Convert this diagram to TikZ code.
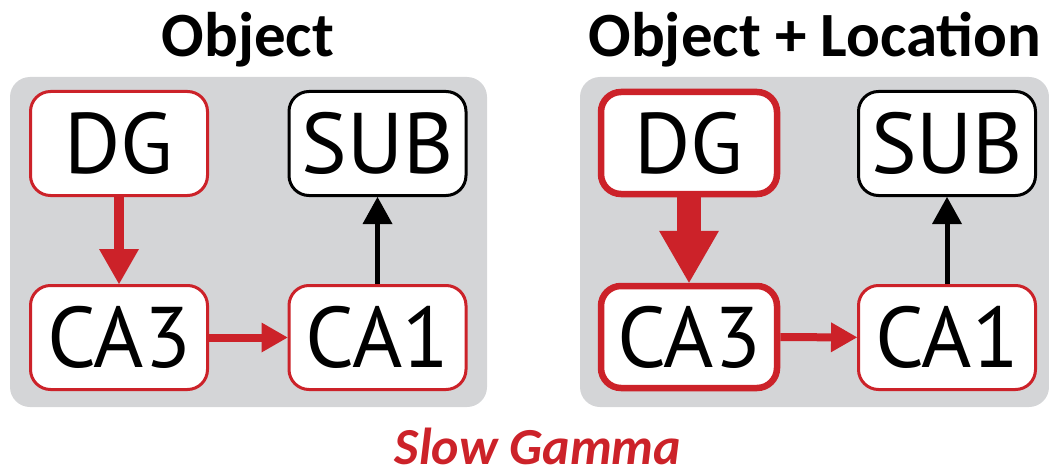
\documentclass[tikz,border=0pt]{standalone}
\usepackage{fontspec}
\setmainfont{Carlito}
\newfontfamily\boxfont{PT Sans}
\usetikzlibrary{arrows.meta}
\definecolor{hipred}{RGB}{204,34,41}
\definecolor{panelgray}{RGB}{212,213,215}
\tikzset{
  region/.style={rounded corners=20pt, fill=white, draw=hipred, line width=3pt,
    minimum width=177pt, minimum height=104pt, inner sep=0pt,
    font=\boxfont\fontsize{86}{86}\selectfont},
  strong/.style={line width=6.5pt, minimum width=176pt, minimum height=102pt},
  output/.style={draw=black},
  title/.style={anchor=base, inner sep=0pt, font=\bfseries\fontsize{63}{63}\selectfont},
  flow/.style={draw=hipred},
}

\begin{document}
\begin{tikzpicture}[x=1pt,y=-1pt]
      \useasboundingbox (0,0) rectangle (1049,476);
      \fill[panelgray, rounded corners=20pt] (10,77) rectangle (487,407);
      \fill[panelgray, rounded corners=20pt] (580,77) rectangle (1049,407);

      \node[title] (objT) at (248,57) {Object};
      \node[title] (locT) at (815,57) {Object + Location};

      % object only
      \node[region] (DGa) at (119,143.5) {DG};
      \node[region,output] (SUBa) at (377.5,143.5) {SUB};
      \node[region] (CAthreea) at (119,337.5) {CA3};
      \node[region] (CAonea) at (377.5,337.5) {CA1};

      % object + location
      \node[region,strong] (DGb) at (689,143) {DG};
      \node[region,output] (SUBb) at (947,143.5) {SUB};
      \node[region,strong] (CAthreeb) at (689,337) {CA3};
      \node[region] (CAoneb) at (947,337.5) {CA1};

      \draw[flow, line width=10pt, -{Triangle[width=40pt,length=35pt,line width=0pt]}] (DGa) -- (CAthreea);
      \draw[flow, line width=8pt, -{Triangle[width=30pt,length=26pt,line width=0pt]}] (CAthreea) -- (CAonea);
      \draw[line width=5pt, -{Triangle[width=30pt,length=27pt,line width=0pt]}] (CAonea) -- (SUBa);

      \draw[flow, line width=24pt, -{Triangle[width=60pt,length=52pt,line width=0pt]}] (DGb) -- (CAthreeb);
      \draw[flow, line width=8pt, -{Triangle[width=30pt,length=26pt,line width=0pt]}] (CAthreeb) -- (CAoneb);
      \draw[line width=5pt, -{Triangle[width=30pt,length=27pt,line width=0pt]}] (CAoneb) -- (SUBb);

      \node[title, text=hipred, font=\bfseries\itshape\fontsize{52}{52}\selectfont] (gamma) at (538,464) {Slow Gamma};
\end{tikzpicture}
\end{document}
